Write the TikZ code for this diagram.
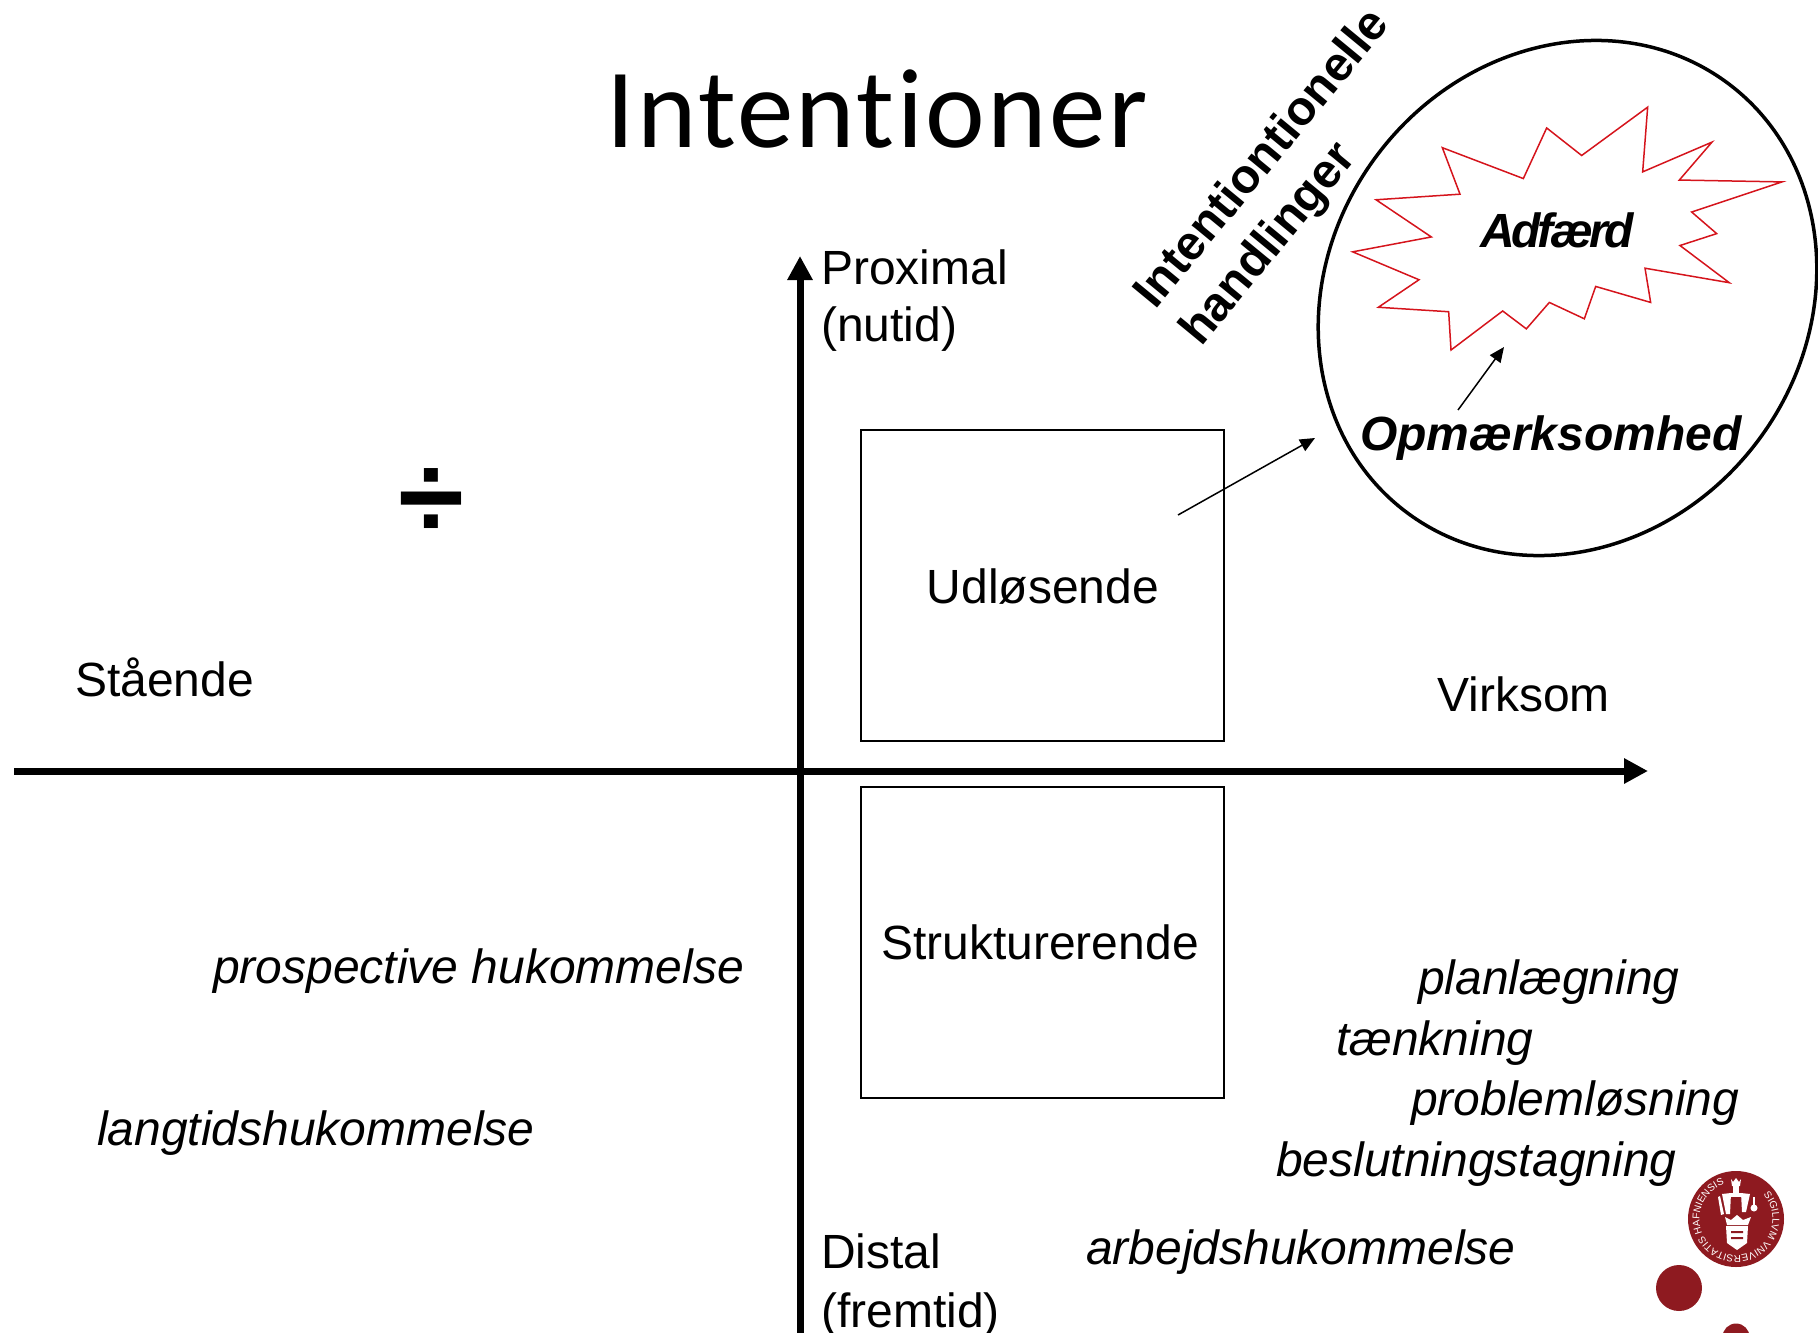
\documentclass[tikz,border=0pt]{standalone}
\usepackage{fontspec}
\setmainfont{Liberation Sans}
\newfontfamily\calib[Ligatures=NoCommon,LetterSpace=2.2,Contextuals=NoAlternate]{Carlito}
\usetikzlibrary{arrows.meta,decorations.text}
\definecolor{kured}{HTML}{8E1A20}
\definecolor{burst}{HTML}{D5141C}
\newcommand{\fs}[1]{\fontsize{#1}{#1}\selectfont}
\tikzset{
  lbl/.style={anchor=base west,inner sep=0pt,font=\fs{48}},
  lblc/.style={anchor=base,inner sep=0pt,font=\fs{48}},
  ital/.style={anchor=base west,inner sep=0pt,font=\fs{48}\itshape},
  bi/.style={anchor=base west,inner sep=0pt,font=\fs{48}\bfseries\itshape},
  rot/.style={anchor=base west,inner sep=0pt,rotate=50.5,font=\fs{48}\bfseries},
  qbox/.style={draw=black,line width=1.6pt,minimum width=363pt,minimum height=311pt,inner sep=0pt},
  axis/.style={line width=7pt,-{Triangle[length=24pt,width=24pt]}},
  thin arrow/.style={line width=1.5pt,-{Triangle[length=15pt,width=13pt]}},
  sealw/.style={fill=white,draw=none}
}
\begin{document}
\begin{tikzpicture}[x=1pt,y=-1pt]
\useasboundingbox (0,0) rectangle (1818,1333);
\clip (0,0) rectangle (1818,1333);
% title
\node[anchor=base,inner sep=0pt,font=\calib\fs{113}] (title) at (877,147) {Intentioner};
% quadrant boxes
\node[qbox] (udl) at (1042.5,585.5) {};
\node[qbox] (struk) at (1042.5,942.5) {};
\node[lblc] (udltxt) at (1043,603) {Udløsende};
\node[lblc] (struktxt) at (1040,959) {Strukturerende};
% axes
\coordinate (xa) at (14,771);
\coordinate (xb) at (1648,771);
\coordinate (ya) at (800,1333);
\coordinate (yb) at (800,256);
\draw[axis] (xa) -- (xb);
\draw[axis] (ya) -- (yb);
% axis labels
\node[lbl] (prox) at (821,284) {Proximal};
\node[lbl] (nutid) at (821,341) {(nutid)};
\node[lbl] (dist) at (821,1268) {Distal};
\node[lbl] (frem) at (821,1327) {(fremtid)};
\node[lbl] (staa) at (75,696) {Stående};
\node[lbl] (virk) at (1437,711) {Virksom};
\node[inner sep=0pt,font=\fs{120}\bfseries] (div) at (431,504) {÷};
% italic lists
\node[ital] (pros) at (213,983) {prospective hukommelse};
\node[ital] (lang) at (97,1145) {langtidshukommelse};
\node[ital] (plan) at (1418,994) {planlægning};
\node[ital] (taenk) at (1336,1055) {tænkning};
\node[ital] (prob) at (1411,1115) {problemløsning};
\node[ital] (besl) at (1276,1176) {beslutningstagning};
\node[ital] (arb) at (1086,1264) {arbejdshukommelse};
% rotated heading
\node[rot] (int1) at (1155,311) {Intentiontionelle};
\node[rot] (int2) at (1201,348) {handlinger};
% blob and burst
\draw[black,line width=3.5pt,rotate around={53:(1567.5,298)}] (1567.5,298) ellipse [x radius=268,y radius=238];
\begin{scope}[xshift=1300pt,x=0.33333pt,y=-0.372pt]
\draw[burst,line width=1.5pt,line join=miter] (427,397)--(670,480)--(740,344)--(845,418)--(1043,288)--(1028,462)--(1236,382)--(1138,484)--(1446,489)--(1175,570)--(1250,628)--(1140,660)--(1288,760)--(1035,721)--(1052,813)--(887,770)--(853,857)--(748,813)--(679,884)--(608,836)--(453,941)--(446,838)--(235,826)--(357,752)--(158,677)--(394,637)--(228,537)--(480,522)--cycle;
\end{scope}
\node[bi,font=\fs{48}\bfseries\itshape\addfontfeature{LetterSpace=-7}] (adf) at (1480,247) {Adfærd};
\node[bi] (opm) at (1360,450) {Opmærksomhed};
% thin arrows
\coordinate (a1) at (1458,410);
\coordinate (a2) at (1504,347);
\draw[thin arrow] (a1) -- (a2);
\coordinate (b1) at (1178,515);
\coordinate (b2) at (1315,438);
\draw[thin arrow] (b1) -- (b2);
% seal
\fill[kured] (1736,1219) circle (48);
\fill[kured] (1679,1288) circle (23);
\fill[kured] (1736,1337) circle (13.5);
\path[postaction={decorate},decoration={text along path,text align=center,
  text={|\fs{10}\color{white}|SIGILLVM VNIVERSITATIS HAFNIENSIS}}]
  (1736,1219) ++(-72:36.5) arc[start angle=-72,end angle=282,radius=36.5];
% seal figure
\fill[sealw] (1733,1186) rectangle (1739,1193);
\fill[sealw] (1731,1179) -- (1733,1182) -- (1736,1178) -- (1739,1182) -- (1741,1179) -- (1740,1186) -- (1732,1186) -- cycle;
\fill[sealw] (1722,1194) -- (1731,1193) -- (1730,1214) -- (1726,1214) -- cycle;
\fill[sealw] (1741,1193) -- (1750,1194) -- (1746,1212) -- (1742,1212) -- cycle;
\fill[sealw] (1731,1193) rectangle (1741,1197);
\fill[sealw] (1718,1197) -- (1720,1196) -- (1724,1214) -- (1721,1215) -- cycle;
\fill[sealw] (1754,1208) circle (3.5);
\fill[sealw] (1753,1197) rectangle (1755,1205);
\fill[sealw] (1725,1217) -- (1731,1220) -- (1737,1215) -- (1743,1220) -- (1751,1217) -- (1748,1225) -- (1727,1225) -- cycle;
\fill[sealw] (1726,1226) -- (1748,1226) -- (1747,1243) -- (1737,1250) -- (1727,1243) -- cycle;
\fill[kured] (1731,1231) rectangle (1743,1233) (1731,1237) rectangle (1743,1239);
\end{tikzpicture}
\end{document}
